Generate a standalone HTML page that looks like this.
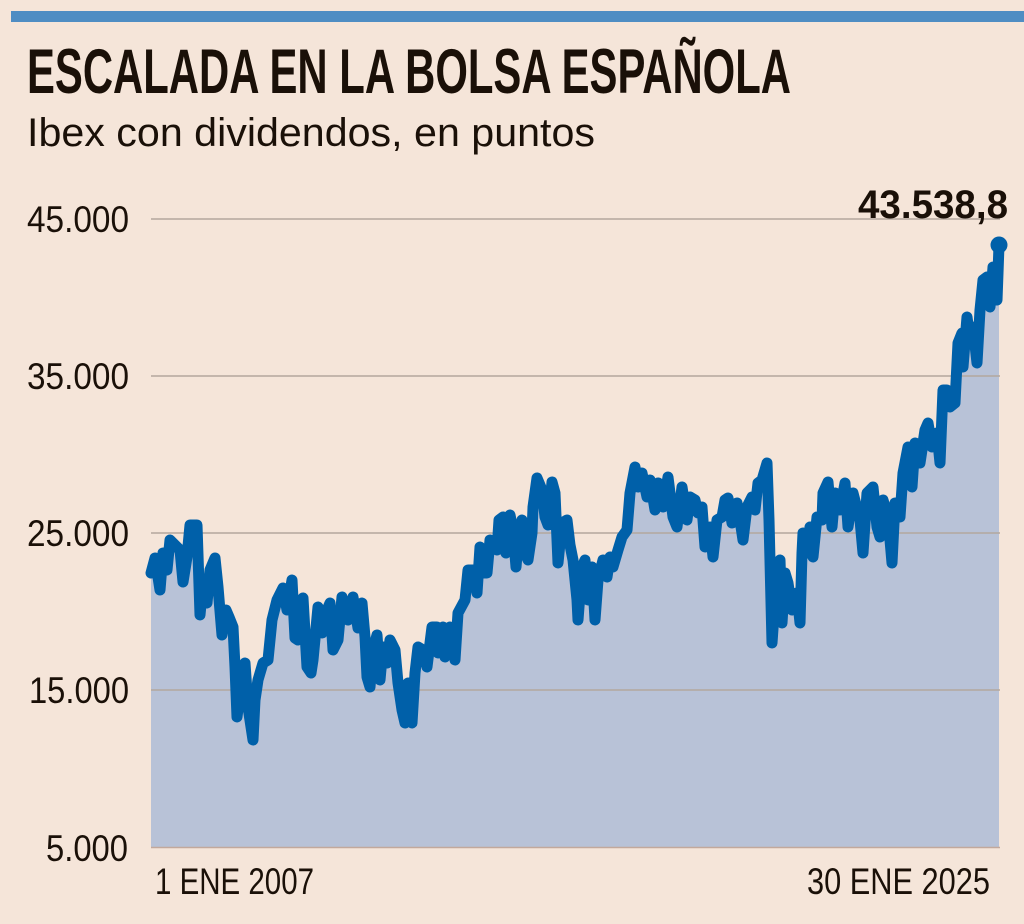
<!DOCTYPE html>
<html>
<head>
<meta charset="utf-8">
<style>
html,body{margin:0;padding:0;background:#f5e5d9;}
svg{display:block;}
text{font-family:"Liberation Sans",sans-serif;fill:#1a1008;}
</style>
</head>
<body>
<svg width="1024" height="924" viewBox="0 0 1024 924" xmlns="http://www.w3.org/2000/svg">
<rect x="0" y="0" width="1024" height="924" fill="#f5e5d9"/>
<rect x="11" y="11" width="1013" height="11" fill="#4f8dc3"/>
<text x="27" y="93" font-size="63" font-weight="bold" textLength="764" lengthAdjust="spacingAndGlyphs">ESCALADA EN LA BOLSA ESPAÑOLA</text>
<text x="27" y="146" font-size="40" textLength="568" lengthAdjust="spacingAndGlyphs">Ibex con dividendos, en puntos</text>

<polygon fill="#b8c2d7" points="151,847 151,573 155,558 160,590 163,553 167,570 170,540 175,545 180,550 183,582 187,557 190,525 197,525 200,615 203,583 207,603 210,570 215,558 218,587 222,635 226,610 229,617 233,627 235,667 237,717 240,693 245,663 248,707 253,740 255,700 258,680 263,663 268,660 272,620 277,600 283,588 287,610 292,580 295,638 298,640 303,598 307,667 311,673 313,660 318,607 322,633 327,610 330,603 333,650 338,640 342,597 348,620 353,597 358,628 362,603 365,637 367,677 370,687 373,650 377,635 380,680 383,647 387,663 390,640 395,650 398,683 402,710 405,723 408,683 412,723 415,673 418,647 423,650 427,667 432,627 437,627 438,653 443,627 445,657 450,627 455,660 458,613 465,600 468,570 473,570 477,593 480,547 483,573 487,573 490,540 497,550 499,520 503,517 506,553 510,515 513,530 516,567 518,543 522,520 525,553 528,560 532,533 533,507 537,478 542,490 545,517 548,525 552,482 555,493 558,563 562,523 567,520 570,545 573,560 577,600 578,620 582,567 585,560 588,600 592,567 595,620 598,580 603,560 607,577 610,557 613,567 618,550 622,537 627,530 630,493 635,467 638,487 642,473 647,497 650,480 655,510 658,483 663,507 668,477 673,517 677,527 682,487 687,520 690,497 695,500 698,513 702,507 705,547 710,527 713,557 717,520 722,517 725,500 728,498 732,523 737,503 740,520 743,540 747,507 752,497 755,510 758,483 762,480 767,463 769,520 772,643 775,600 780,560 782,623 785,573 788,583 792,610 797,593 800,623 802,553 803,533 807,553 810,527 813,557 817,517 822,520 823,493 828,482 832,527 835,493 840,510 845,483 848,527 853,493 860,520 863,553 867,493 873,487 877,527 880,537 883,500 888,517 892,563 895,503 900,517 903,473 908,447 912,487 915,443 920,463 925,430 928,423 932,447 937,433 940,463 943,390 947,390 950,407 955,403 958,343 962,333 963,367 967,317 970,340 973,327 977,363 980,310 983,280 987,277 990,307 993,267 997,300 998,273 999,245 999,847"/>

<g stroke="#b3a79e" stroke-width="1.5">
<line x1="151" y1="219" x2="1000" y2="219"/>
<line x1="151" y1="376" x2="1000" y2="376"/>
<line x1="151" y1="533" x2="1000" y2="533"/>
<line x1="151" y1="690" x2="1000" y2="690"/>
</g>
<line x1="151" y1="847.5" x2="1000" y2="847.5" stroke="#c2a89c" stroke-width="1.5"/>

<polyline fill="none" stroke="#0060a9" stroke-width="11" stroke-linejoin="round" stroke-linecap="round" points="151,573 155,558 160,590 163,553 167,570 170,540 175,545 180,550 183,582 187,557 190,525 197,525 200,615 203,583 207,603 210,570 215,558 218,587 222,635 226,610 229,617 233,627 235,667 237,717 240,693 245,663 248,707 253,740 255,700 258,680 263,663 268,660 272,620 277,600 283,588 287,610 292,580 295,638 298,640 303,598 307,667 311,673 313,660 318,607 322,633 327,610 330,603 333,650 338,640 342,597 348,620 353,597 358,628 362,603 365,637 367,677 370,687 373,650 377,635 380,680 383,647 387,663 390,640 395,650 398,683 402,710 405,723 408,683 412,723 415,673 418,647 423,650 427,667 432,627 437,627 438,653 443,627 445,657 450,627 455,660 458,613 465,600 468,570 473,570 477,593 480,547 483,573 487,573 490,540 497,550 499,520 503,517 506,553 510,515 513,530 516,567 518,543 522,520 525,553 528,560 532,533 533,507 537,478 542,490 545,517 548,525 552,482 555,493 558,563 562,523 567,520 570,545 573,560 577,600 578,620 582,567 585,560 588,600 592,567 595,620 598,580 603,560 607,577 610,557 613,567 618,550 622,537 627,530 630,493 635,467 638,487 642,473 647,497 650,480 655,510 658,483 663,507 668,477 673,517 677,527 682,487 687,520 690,497 695,500 698,513 702,507 705,547 710,527 713,557 717,520 722,517 725,500 728,498 732,523 737,503 740,520 743,540 747,507 752,497 755,510 758,483 762,480 767,463 769,520 772,643 775,600 780,560 782,623 785,573 788,583 792,610 797,593 800,623 802,553 803,533 807,553 810,527 813,557 817,517 822,520 823,493 828,482 832,527 835,493 840,510 845,483 848,527 853,493 860,520 863,553 867,493 873,487 877,527 880,537 883,500 888,517 892,563 895,503 900,517 903,473 908,447 912,487 915,443 920,463 925,430 928,423 932,447 937,433 940,463 943,390 947,390 950,407 955,403 958,343 962,333 963,367 967,317 970,340 973,327 977,363 980,310 983,280 987,277 990,307 993,267 997,300 998,273 999,245"/>
<circle cx="999" cy="245" r="8.5" fill="#0060a9"/>

<text x="129" y="232" font-size="37" text-anchor="end" textLength="102" lengthAdjust="spacingAndGlyphs">45.000</text>
<text x="129" y="389" font-size="37" text-anchor="end" textLength="102" lengthAdjust="spacingAndGlyphs">35.000</text>
<text x="129" y="546" font-size="37" text-anchor="end" textLength="102" lengthAdjust="spacingAndGlyphs">25.000</text>
<text x="129" y="703" font-size="37" text-anchor="end" textLength="100" lengthAdjust="spacingAndGlyphs">15.000</text>
<text x="128" y="861" font-size="37" text-anchor="end" textLength="82" lengthAdjust="spacingAndGlyphs">5.000</text>

<text x="858" y="218" font-size="40" font-weight="bold" textLength="150" lengthAdjust="spacingAndGlyphs">43.538,8</text>

<text x="155" y="894" font-size="37" textLength="159" lengthAdjust="spacingAndGlyphs">1 ENE 2007</text>
<text x="807" y="894" font-size="37" textLength="183" lengthAdjust="spacingAndGlyphs">30 ENE 2025</text>
</svg>
</body>
</html>
